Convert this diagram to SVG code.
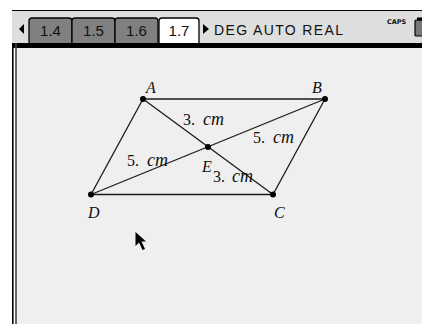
<svg xmlns="http://www.w3.org/2000/svg" width="422" height="324" viewBox="0 0 422 324">
<style>
.tab{stroke:#000;stroke-width:1.3}
.tabtxt{font-family:"Liberation Sans",Arial,sans-serif;font-size:15px;fill:#111;text-anchor:middle}
.seg{stroke:#1a1a1a;stroke-width:1.3;fill:none}
.pt{fill:#000}
.lbl{font-family:"Liberation Serif","Times New Roman",serif;font-style:italic;font-size:16px;fill:#111}
.cm{font-family:"Liberation Serif","Times New Roman",serif;font-style:italic;font-size:18px;fill:#111}
.num{font-family:"Liberation Serif","Times New Roman",serif;font-size:16px;fill:#111}
</style>
<rect width="422" height="324" fill="#ffffff"/>
<g id="header">
<rect x="12" y="10" width="410" height="36" fill="#dedede"/>
<line x1="12" y1="10.5" x2="422" y2="10.5" stroke="#000" stroke-width="1.2"/>
<polygon points="19,29 24,24 24,34" fill="#000"/>
<path class="tab" d="M29,45 V21 Q29,18 32,18 H69 Q72,18 72,21 V45" fill="#808080"/>
<path class="tab" d="M72,45 V21 Q72,18 75,18 H112 Q115,18 115,21 V45" fill="#808080"/>
<path class="tab" d="M115,45 V21 Q115,18 118,18 H155 Q158,18 158,21 V45" fill="#808080"/>
<path class="tab" d="M159,45 V21 Q159,18 162,18 H196 Q199,18 199,21 V45" fill="#ffffff"/>
<text class="tabtxt" x="50.5" y="36">1.4</text>
<text class="tabtxt" x="93.5" y="36">1.5</text>
<text class="tabtxt" x="136.5" y="36">1.6</text>
<text class="tabtxt" x="179" y="36">1.7</text>
<polygon points="203,24 209,29 203,34" fill="#000"/>
<text x="214" y="35" font-family="Liberation Sans,Arial,sans-serif" font-size="14" fill="#111" textLength="129" lengthAdjust="spacing">DEG AUTO REAL</text>
<text x="387" y="24" font-family="DejaVu Sans,sans-serif" font-size="6.5" font-weight="bold" fill="#111">CAPS</text>
<rect x="415" y="20" width="9" height="16" rx="1" fill="#777" stroke="#000" stroke-width="1.2"/>
<rect x="417" y="17.5" width="5" height="3" fill="#000"/>
<rect x="12" y="43" width="410" height="5" fill="#000"/>
</g>
<rect x="17" y="48" width="405" height="276" fill="#efefef"/>
<rect x="12" y="43" width="1.6" height="281" fill="#000"/>
<rect x="15.2" y="43" width="1.6" height="281" fill="#444"/>
<g id="connectors">
<line class="seg" x1="143" y1="99" x2="325" y2="99"/>
<line class="seg" x1="325" y1="99" x2="273" y2="194.5"/>
<line class="seg" x1="273" y1="194.5" x2="91" y2="194.5"/>
<line class="seg" x1="91" y1="194.5" x2="143" y2="99"/>
<line class="seg" x1="143" y1="99" x2="273" y2="194.5" stroke-width="1"/>
<line class="seg" x1="325" y1="99" x2="91" y2="194.5" stroke-width="1"/>
</g>
<g id="A"><circle class="pt" cx="143" cy="99" r="3"/><text class="lbl" x="146" y="93">A</text></g>
<g id="B"><circle class="pt" cx="325" cy="99" r="3"/><text class="lbl" x="312" y="93">B</text></g>
<g id="C"><circle class="pt" cx="273" cy="194.5" r="3"/><text class="lbl" x="274" y="218">C</text></g>
<g id="D"><circle class="pt" cx="91" cy="194.5" r="3"/><text class="lbl" x="88" y="218">D</text></g>
<g id="E"><circle class="pt" cx="208" cy="147" r="3"/><text class="lbl" x="202" y="172">E</text></g>
<g id="measures">
<text class="num" x="183" y="125">3.</text><text class="cm" x="203" y="125">cm</text>
<text class="num" x="253" y="143">5.</text><text class="cm" x="273" y="143">cm</text>
<text class="num" x="127" y="166">5.</text><text class="cm" x="147" y="166">cm</text>
<text class="num" x="213" y="182">3.</text><text class="cm" x="232" y="182">cm</text>
</g>
<polygon id="cursor" points="135.5,232 135.5,246 139,242.5 142.5,250 145,249 141.5,241.5 146,241.5" fill="#000"/>
</svg>
